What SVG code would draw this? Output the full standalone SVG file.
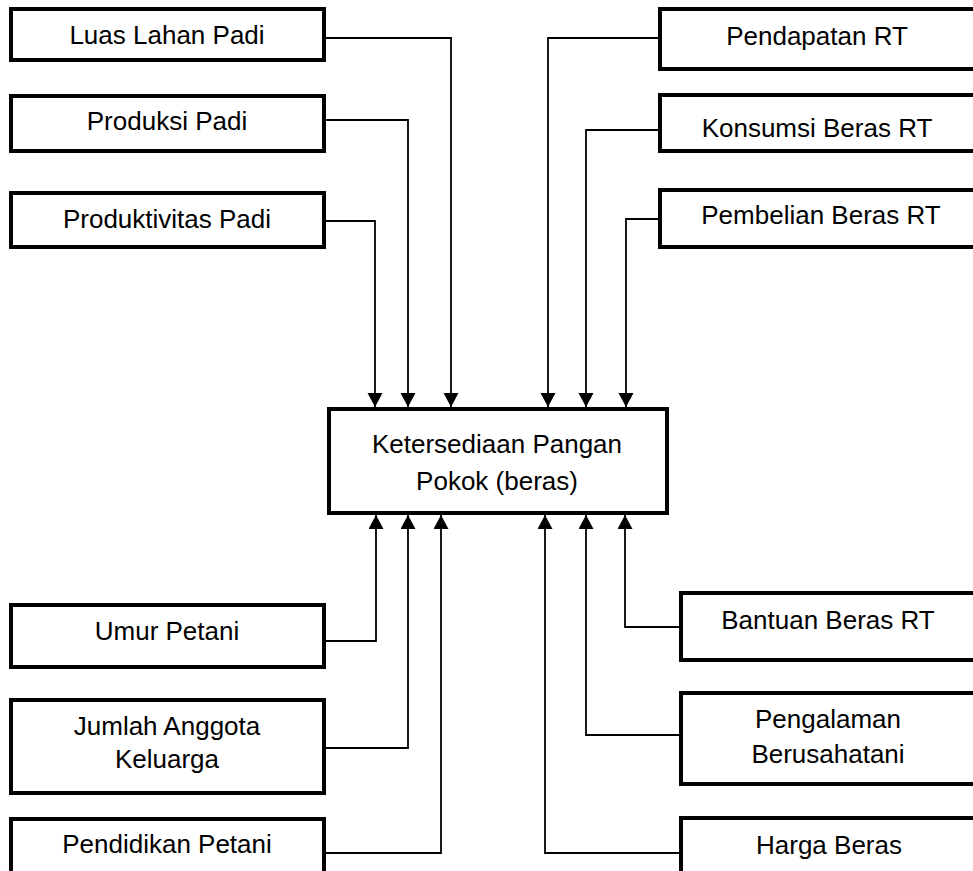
<svg xmlns="http://www.w3.org/2000/svg" width="973" height="871" viewBox="0 0 973 871">
<style>
.box{fill:#fff;stroke:#000;stroke-width:4}
.t{font-family:"Liberation Sans",Arial,sans-serif;font-size:26px;fill:#000;text-anchor:middle}
.c{fill:none;stroke:#000;stroke-width:1.8;marker-end:url(#ah)}
</style>
<defs>
<marker id="ah" markerUnits="userSpaceOnUse" markerWidth="16" markerHeight="16" refX="14" refY="7.5" orient="auto">
<path d="M0,0 L14,7.5 L0,15 Z" fill="#000"/>
</marker>
</defs>
<rect width="973" height="871" fill="#fff"/>
<g id="connectors">
<path class="c" d="M326,38 H451 V407"/>
<path class="c" d="M326,120 H408 V407"/>
<path class="c" d="M326,221 H375 V407"/>
<path class="c" d="M658,38 H548 V407"/>
<path class="c" d="M658,130 H586 V407"/>
<path class="c" d="M658,219 H626 V407"/>
<path class="c" d="M326,641 H376 V515"/>
<path class="c" d="M326,748 H408 V515"/>
<path class="c" d="M326,853 H441 V515"/>
<path class="c" d="M679,627 H625 V515"/>
<path class="c" d="M679,735 H586 V515"/>
<path class="c" d="M679,853 H545 V515"/>
</g>
<g id="center">
<rect class="box" x="329" y="409" width="338" height="104"/>
<text class="t" x="497" y="453">Ketersediaan Pangan</text>
<text class="t" x="497" y="490">Pokok (beras)</text>
</g>
<g id="luas">
<rect class="box" x="11" y="9" width="313" height="51"/>
<text class="t" x="167" y="44">Luas Lahan Padi</text>
</g>
<g id="produksi">
<rect class="box" x="11" y="96" width="313" height="55"/>
<text class="t" x="167" y="130">Produksi Padi</text>
</g>
<g id="produktivitas">
<rect class="box" x="11" y="193" width="313" height="54"/>
<text class="t" x="167" y="228">Produktivitas Padi</text>
</g>
<g id="pendapatan">
<rect class="box" x="660" y="9" width="320" height="60"/>
<text class="t" x="817" y="45">Pendapatan RT</text>
</g>
<g id="konsumsi">
<rect class="box" x="660" y="95" width="320" height="56"/>
<text class="t" x="817" y="137">Konsumsi Beras RT</text>
</g>
<g id="pembelian">
<rect class="box" x="660" y="190" width="320" height="57"/>
<text class="t" x="821" y="224">Pembelian Beras RT</text>
</g>
<g id="umur">
<rect class="box" x="11" y="605" width="313" height="62"/>
<text class="t" x="167" y="640">Umur Petani</text>
</g>
<g id="jumlah">
<rect class="box" x="11" y="700" width="313" height="93"/>
<text class="t" x="167" y="735">Jumlah Anggota</text>
<text class="t" x="167" y="768">Keluarga</text>
</g>
<g id="pendidikan">
<rect class="box" x="11" y="819" width="313" height="60"/>
<text class="t" x="167" y="853">Pendidikan Petani</text>
</g>
<g id="bantuan">
<rect class="box" x="681" y="593" width="300" height="67"/>
<text class="t" x="828" y="629">Bantuan Beras RT</text>
</g>
<g id="pengalaman">
<rect class="box" x="681" y="693" width="300" height="91"/>
<text class="t" x="828" y="728">Pengalaman</text>
<text class="t" x="828" y="763">Berusahatani</text>
</g>
<g id="harga">
<rect class="box" x="681" y="818" width="300" height="60"/>
<text class="t" x="829" y="854">Harga Beras</text>
</g>
</svg>
